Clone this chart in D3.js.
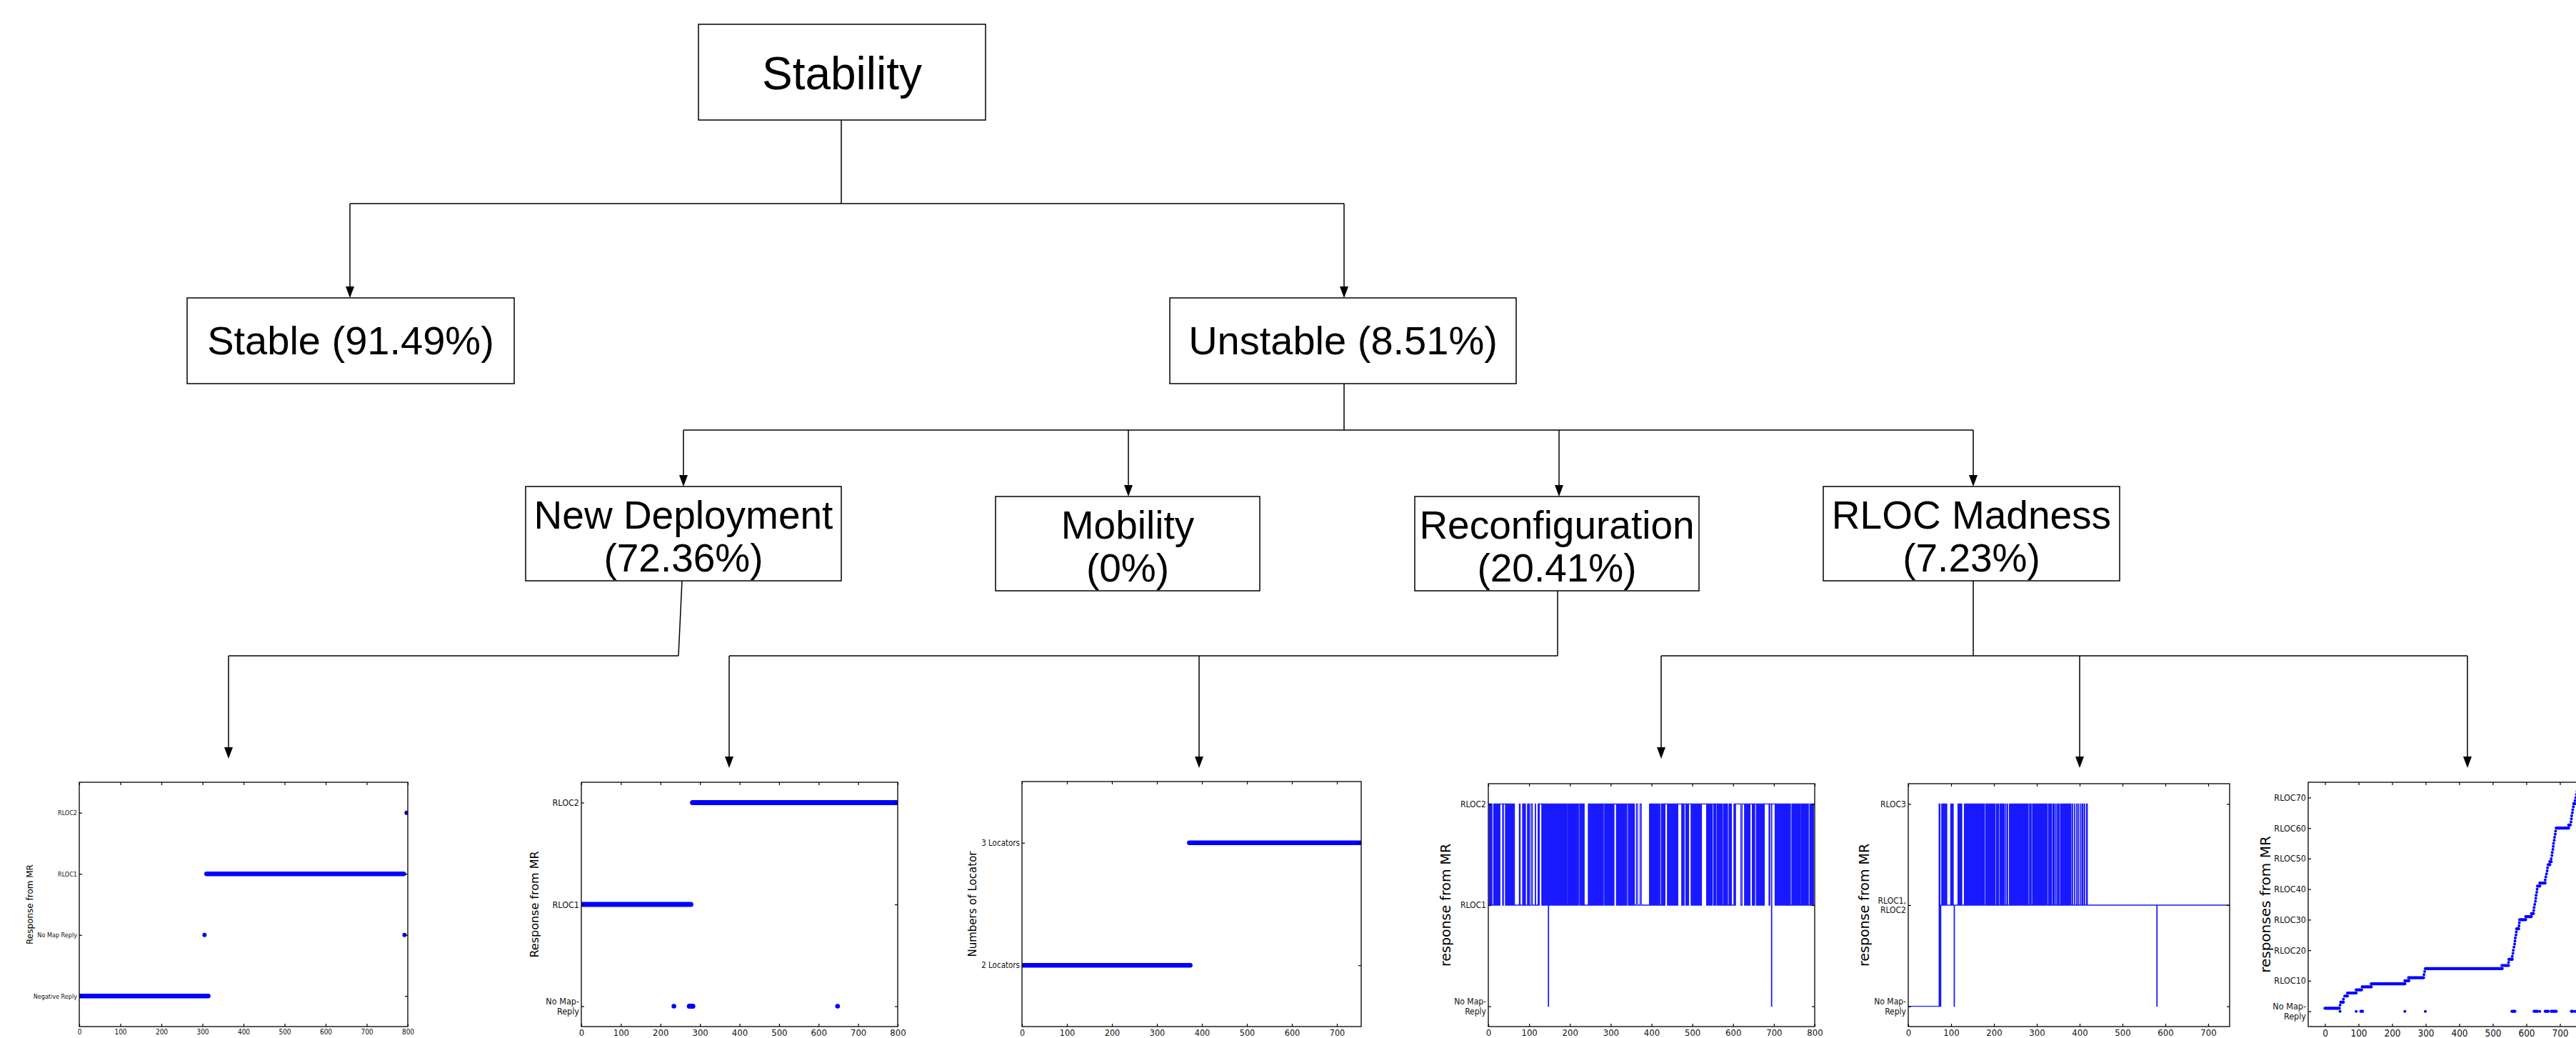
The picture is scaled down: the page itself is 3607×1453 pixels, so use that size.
<!DOCTYPE html>
<html><head><meta charset="utf-8">
<script src="https://cdn.jsdelivr.net/npm/d3@7"></script>
<style>body{margin:0;background:#fff}svg{display:block}</style>
</head><body>
<svg id="c" width="3607" height="1453"></svg>
<script>
// ---------------- DATA ----------------
const rootLabel = "Stability";
const level1Labels = ["Stable", "Unstable"];
const level1Pct = [91.49, 8.51];
const causeLabels = ["New Deployment", "Mobility", "Reconfiguration", "RLOC Madness"];
const causePct = [72.36, 0, 20.41, 7.23];

// Chart 1: New Deployment
const nd1Levels = ["Negative Reply", "No Map Reply", "RLOC1", "RLOC2"];
const nd1Runs = [[0, 314, 0], [310, 790, 2]];
const nd1Dots = [[305, 1], [792, 1], [797, 3]];
const nd1XTicks = [0, 100, 200, 300, 400, 500, 600, 700, 800];

// Chart 2: Reconfiguration (response)
const rc1Levels = ["No Map-\nReply", "RLOC1", "RLOC2"];
const rc1Runs = [[0, 277, 1], [281, 800, 2], [273, 282, 0]];
const rc1Dots = [[234, 0], [648, 0]];
const rc1XTicks = [0, 100, 200, 300, 400, 500, 600, 700, 800];

// Chart 3: Reconfiguration (locators)
const rc2Levels = ["2 Locators", "3 Locators"];
const rc2Runs = [[0, 374, 0], [372, 754, 1]];
const rc2XTicks = [0, 100, 200, 300, 400, 500, 600, 700];

// Chart 4: RLOC Madness (flapping RLOC1/RLOC2)
const rm1Levels = ["No Map-\nReply", "RLOC1", "RLOC2"];
const rm1Toggles = [2,3,4,5.5,6.5,8,9,13,14,15.5,16.5,18,19,20.5,21.5,23,24,25,27,28.5,35,37,
 42,43,44.5,45.5,47,48,49.5,50.5,52,53,54.5,55.5,57,58,59.5,60.5,62,63,64,76,78,84,85.5,87,88.5,90,91,
 96,97.5,99,101,105,108,115,116,122,123.5,125,131,132,133.5,135,136,137.5,139,140,
 141.5,143,144,146,149,150,151.5,153,154,155.5,157,158,159.5,161,162,163.5,165,166,167.5,169,170,171.5,
 173,174,175.5,177,178,179.5,181,182,183.5,185,186,187.5,189,190,191.5,
 194,195.5,197,198,199.5,201,202,203.5,205,206,207.5,209,210,211.5,213,214,215.5,217,218,219.5,221,
 224,225.5,227,228,229.5,231,232,233.5,235,
 245,246.5,248,249,250.5,252,253,254.5,256,257,258.5,260,261,262.5,264,265,266.5,268,269,270.5,272,273,274.5,276,277,278.5,280,281,282,
 285,286.5,288,289,290.5,292,293,294.5,296,297,298.5,300,301,302.5,304,305,306.5,308,
 314,315.5,317,318,319.5,321,322,323.5,325,326,327.5,329,330,331.5,333,334,335.5,337,338,339.5,
 343,345,347,349,351,352.5,354,356,358,363,366,372,375,
 395,396.5,398,399,400.5,402,403,404.5,406,407,408.5,410,411,412.5,414,415,416.5,418,419,420.5,
 424,425.5,427,428.5,430,431.5,433,
 439,440.5,442,443,444.5,446,447,448.5,450,451,452.5,454,455,456.5,458,459,460.5,462,463,464.5,
 474,476,478,480,484,485.5,487,488.5,490,491,
 497,498.5,500,501,502.5,504,505,506.5,508,509,510.5,512,513,514.5,516,517,518.5,520,521,522.5,
 535,536.5,538,539.5,541,542.5,544,545.5,547,548.5,552,554,556,558,
 561,562.5,564,565.5,567,568.5,570,571.5,573,576,577.5,579,580.5,582,583.5,585,586.5,
 590,592,594,596,602,604,606,619,622,628,629.5,631,632.5,634,635.5,637,638.5,640,641.5,
 647,649,651,653,657,658.5,660,661.5,663,664.5,666,667.5,669,670.5,672,673.5,675,676.5,688,690,
 703,704.5,706,707,708.5,710,711,712.5,714,715,716.5,718,719,720.5,722,723,724.5,726,727,728.5,730,731,732.5,734,735,736.5,738,739,740.5,
 744,745.5,747,748,749.5,751,752,753.5,755,756,757.5,759,760,761.5,763,764.5,
 767,768.5,770,771,772.5,774,775,776.5,778,779,780.5,782,783,784.5,
 788,789.5,791,792.5,794,795.5,797];
const rm1Dips = [147, 694];
const rm1XTicks = [0, 100, 200, 300, 400, 500, 600, 700, 800];

// Chart 5: RLOC Madness (RLOC3 flapping)
const rm2Levels = ["No Map-\nReply", "RLOC1,\nRLOC2", "RLOC3"];
const rm2Head = [[0, 0], [72, 2], [74, 0], [76, 1]];
const rm2Pulses = [[78,79],[80,82],[84,85],[87,88],[89,90],[99,100],[101,103],[104,105],[116,117],[119,120],[122,123],[124,125],
 [131,132],[133,134],[135,136],[137,138],[139,140],[141,142],[143,144],[146,147],[148,149],[151,152],[153,154],[156,157],[158,160],
 [161,162],[164,165],[167,168],[170,172],[174,175],[177,178],[181,182],[184,185],[187,188],[190,191],[193,194],[195,197],[199,200],
 [202,203],[206,207],[209,211],[214,215],[217,218],[220,221],[223,224],[227,228],[231,232],[236,237],[239,240],[242,243],[245,246],
 [248,249],[251,252],[254,255],[256,257],[259,260],[262,263],[264,265],[267,268],[270,271],[272,273],[275,276],[278,280],[283,284],
 [286,287],[290,291],[293,294],[296,297],[299,300],[302,303],[305,306],[308,309],[311,312],[314,315],[317,318],[320,321],[323,324],
 [327,328],[330,331],[333,334],[337,338],[340,341],[344,345],[348,349],[351,352],[355,356],[358,359],[361,362],[364,365],[367,368],
 [370,371],[373,374],[376,377],[379,380],[383,384],[388,389],[393,394],[397,398],[402,403],[406,408],[411,412],[416,418]];
const rm2Dips = [107, 580];
const rm2XTicks = [0, 100, 200, 300, 400, 500, 600, 700];

// Chart 6: RLOC Madness (growing RLOC set)
const rm3TickVals = [0, 10, 20, 30, 40, 50, 60, 70];
const rm3TickLabels = ["No Map-\nReply", "RLOC10", "RLOC20", "RLOC30", "RLOC40", "RLOC50", "RLOC60", "RLOC70"];
const rm3Runs = [[0,43,1],[47,55,3],[59,67,5],[67,93,6],[93,109,7],[111,138,8],[138,238,9],[238,250,10],[249,294,11],
 [299,528,14],[527,547,15],[548,558,17],[571,577,27],[580,598,30],[598,615,31],[615,621,32],[633,640,41],[640,656,42],
 [665,670,48],[670,674,49],[689,726,60],[726,731,61],[741,744,68],
 [107,112,0],[557,566,0],[623,633,0],[656,665,0],[674,689,0],[734,738,0]];
const rm3Dots = [[45,2],[55,4],[295,12],[297,13],[547,16],[558,18],[560,19],[561,20],[563,21],[565,22],[566,23],[567,24],
 [569,25],[570,26],[578,28],[579,29],[622,33],[623,34],[625,35],[627,36],[628,37],[629,38],[631,39],[632,40],[656,43],
 [658,44],[660,45],[662,46],[663,47],[674,50],[676,51],[677,52],[679,53],[680,54],[681,55],[683,56],[684,57],[686,58],
 [687,59],[733,62],[734,63],[735,64],[737,65],[738,66],[740,67],[745,69],[747,70],[749,71],[751,72],
 [45,0],[93,0],[238,0],[299,0],[640,0],[745,0]];
const rm3XTicks = [0, 100, 200, 300, 400, 500, 600, 700];

// ---------------- DRAW ----------------
const svg = d3.select("#c");
const BLUE = "#0000ff";
const TREE_FONT = "'Liberation Sans', Arial, Helvetica, sans-serif";
const TICK_FONT = "'DejaVu Sans Condensed', 'DejaVu Sans', sans-serif";
const LABEL_FONT = "'DejaVu Sans', sans-serif";

// --- Tree ---
const tree = svg.append("g");
function box(b, lines, fs, lineYs) {
  tree.append("rect").attr("x", b.x).attr("y", b.y).attr("width", b.w).attr("height", b.h)
    .attr("fill", "#fff").attr("stroke", "#000").attr("stroke-width", 1.5);
  lines.forEach((t, i) => {
    tree.append("text").attr("x", b.x + b.w / 2).attr("y", lineYs[i])
      .attr("text-anchor", "middle").attr("dominant-baseline", "central")
      .attr("font-family", TREE_FONT).attr("font-size", fs).attr("fill", "#000").text(t);
  });
}
function seg(x1, y1, x2, y2) {
  tree.append("line").attr("x1", x1).attr("y1", y1).attr("x2", x2).attr("y2", y2)
    .attr("stroke", "#000").attr("stroke-width", 1.5);
}
function arrow(x, y1, tipY) {
  seg(x, y1, x, tipY - 12);
  tree.append("path").attr("d", `M${x - 6},${tipY - 16}L${x + 6},${tipY - 16}L${x},${tipY}Z`).attr("fill", "#000");
}
const pctText = p => `(${p}%)`;

const rootBox = {x: 978, y: 34, w: 402, h: 134};
box(rootBox, [rootLabel], 64, [103]);
const l1Boxes = [{x: 262, y: 417, w: 458, h: 120}, {x: 1638, y: 417, w: 485, h: 120}];
level1Labels.forEach((l, i) => box(l1Boxes[i], [`${l} ${pctText(level1Pct[i])}`], 56, [476]));
const causeBoxes = [{x: 736, y: 681, w: 442, h: 132}, {x: 1394, y: 695, w: 370, h: 132},
                    {x: 1981, y: 695, w: 398, h: 132}, {x: 2553, y: 681, w: 415, h: 132}];
causeLabels.forEach((l, i) => {
  const b = causeBoxes[i];
  box(b, [l, pctText(causePct[i])], 55, [b.y + 40, b.y + 100]);
});

// connectors
seg(1178, 168, 1178, 285); seg(490, 285, 1882, 285);
arrow(490, 285, 417); arrow(1882, 285, 417);
seg(1882, 537, 1882, 602); seg(957, 602, 2763, 602);
arrow(957, 602, 681); arrow(1580, 602, 695); arrow(2183, 602, 695); arrow(2763, 602, 681);
seg(955, 813, 950, 918); seg(320, 918, 950, 918); arrow(320, 918, 1062);
seg(2181, 827, 2181, 918); seg(1021, 918, 2181, 918); arrow(1021, 918, 1075); arrow(1679, 918, 1075);
seg(2763, 813, 2763, 918); seg(2326, 918, 3455, 918); arrow(2326, 918, 1062); arrow(2912, 918, 1075); arrow(3455, 918, 1075);

// --- Charts ---
function drawChart(cfg) {
  const g = svg.append("g");
  const x = d3.scaleLinear().domain(cfg.xDomain).range([cfg.left, cfg.right]);
  const y = d3.scaleLinear().domain(cfg.yDomain).range([cfg.bottom, cfg.top]);
  const clipId = "clip" + cfg.id;
  g.append("clipPath").attr("id", clipId).append("rect")
    .attr("x", cfg.left).attr("y", cfg.top).attr("width", cfg.right - cfg.left).attr("height", cfg.bottom - cfg.top);

  const plot = g.append("g").attr("clip-path", `url(#${clipId})`);
  cfg.draw(plot, x, y);

  const styleAxis = (sel, fs) => {
    sel.select(".domain").remove();
    sel.selectAll(".tick line").attr("stroke", "#000").attr("stroke-width", 1.2);
    sel.selectAll("text").attr("font-family", TICK_FONT).attr("font-stretch", "condensed")
      .attr("font-size", fs).attr("fill", "#111");
  };
  const bx = g.append("g").attr("transform", `translate(0,${cfg.bottom})`)
    .call(d3.axisBottom(x).tickValues(cfg.xTicks).tickFormat(d3.format("d")).tickSize(-4).tickPadding(4));
  styleAxis(bx, cfg.xFont);
  const tx = g.append("g").attr("transform", `translate(0,${cfg.top})`)
    .call(d3.axisTop(x).tickValues(cfg.xTicks).tickFormat("").tickSize(-4));
  styleAxis(tx, cfg.xFont);
  const ly = g.append("g").attr("transform", `translate(${cfg.left},0)`)
    .call(d3.axisLeft(y).tickValues(cfg.yTickVals).tickFormat((d, i) => cfg.yTickLabels[i]).tickSize(-4).tickPadding(3));
  styleAxis(ly, cfg.yFont);
  ly.selectAll(".tick text").each(function (d, i) {
    const t = cfg.yTickLabels[i];
    if (t.includes("\n")) {
      const el = d3.select(this);
      const parts = t.split("\n");
      el.text(null).attr("dy", null);
      parts.forEach((p, j) => el.append("tspan").attr("x", -3)
        .attr("dy", j === 0 ? "-0.25em" : "1.15em").text(p));
    }
  });
  const ry = g.append("g").attr("transform", `translate(${cfg.right},0)`)
    .call(d3.axisRight(y).tickValues(cfg.yTickVals).tickFormat("").tickSize(-4));
  styleAxis(ry, cfg.yFont);

  g.append("rect").attr("x", cfg.left).attr("y", cfg.top).attr("width", cfg.right - cfg.left)
    .attr("height", cfg.bottom - cfg.top).attr("fill", "none").attr("stroke", "#111").attr("stroke-width", 1.4);

  g.append("text").attr("transform", `translate(${cfg.labelX},${(cfg.top + cfg.bottom) / 2}) rotate(-90)`)
    .attr("text-anchor", "middle").attr("dominant-baseline", "central")
    .attr("font-family", LABEL_FONT).attr("font-size", cfg.labelFont).attr("fill", "#000").text(cfg.yLabel);
}

function runsAndDots(runs, dots, width, r) {
  return (p, x, y) => {
    p.selectAll(".run").data(runs).join("line")
      .attr("x1", d => x(d[0])).attr("x2", d => x(d[1])).attr("y1", d => y(d[2])).attr("y2", d => y(d[2]))
      .attr("stroke", BLUE).attr("stroke-width", width).attr("stroke-linecap", "round");
    p.selectAll(".dot").data(dots).join("circle")
      .attr("cx", d => x(d[0])).attr("cy", d => y(d[1])).attr("r", r).attr("fill", BLUE);
  };
}

const idx = arr => arr.map((d, i) => i);

drawChart({
  id: 1, left: 111, right: 571, top: 1095, bottom: 1437,
  xDomain: [0, 800], yDomain: [-0.5, 3.5], xTicks: nd1XTicks,
  yTickVals: idx(nd1Levels), yTickLabels: nd1Levels, xFont: 10, yFont: 9,
  yLabel: "Response from MR", labelX: 42, labelFont: 12,
  draw: runsAndDots(nd1Runs, nd1Dots, 6.5, 3)
});

drawChart({
  id: 2, left: 814, right: 1257, top: 1095, bottom: 1437,
  xDomain: [0, 800], yDomain: [-0.2, 2.2], xTicks: rc1XTicks,
  yTickVals: idx(rc1Levels), yTickLabels: rc1Levels, xFont: 13, yFont: 12.5,
  yLabel: "Response from MR", labelX: 748, labelFont: 16,
  draw: runsAndDots(rc1Runs, rc1Dots, 7, 3.3)
});

drawChart({
  id: 3, left: 1431, right: 1906, top: 1094, bottom: 1437,
  xDomain: [0, 754], yDomain: [-0.5, 1.5], xTicks: rc2XTicks,
  yTickVals: idx(rc2Levels), yTickLabels: rc2Levels, xFont: 12.5, yFont: 11.5,
  yLabel: "Numbers of Locator", labelX: 1362, labelFont: 15,
  draw: runsAndDots(rc2Runs, [], 6.5, 3)
});

function buildToggleSeries(toggles, dips, startLevel, end) {
  const ev = toggles.map(t => ({t, k: "t"})).concat(dips.map(t => ({t, k: "d"}))).sort((a, b) => a.t - b.t);
  let s = startLevel; const pts = [[0, s]];
  ev.forEach(e => {
    if (e.k === "t") { s = 3 - s; pts.push([e.t, s]); }
    else { pts.push([e.t, 0]); pts.push([e.t + 0.8, s]); }
  });
  pts.push([end, s]);
  return pts;
}
function buildPulseSeries(head, pulses, dips, base, high, end) {
  const pts = head.slice();
  const ev = [];
  pulses.forEach(p => { ev.push([p[0], high]); ev.push([p[1], base]); });
  dips.forEach(d => { ev.push([d, 0]); ev.push([d + 0.8, base]); });
  ev.sort((a, b) => a[0] - b[0]);
  return pts.concat(ev, [[end, base]]);
}
function stepLine(pts) {
  return (p, x, y) => {
    p.append("path").datum(pts)
      .attr("d", d3.line().x(d => x(d[0])).y(d => y(d[1])).curve(d3.curveStepAfter))
      .attr("fill", "none").attr("stroke", BLUE).attr("stroke-width", 1.3).attr("stroke-opacity", 0.9);
  };
}

drawChart({
  id: 4, left: 2084, right: 2541, top: 1097, bottom: 1437,
  xDomain: [0, 800], yDomain: [-0.2, 2.2], xTicks: rm1XTicks,
  yTickVals: idx(rm1Levels), yTickLabels: rm1Levels, xFont: 13, yFont: 12,
  yLabel: "response from MR", labelX: 2024, labelFont: 19,
  draw: stepLine(buildToggleSeries(rm1Toggles, rm1Dips, 2, 800))
});

drawChart({
  id: 5, left: 2672, right: 3122, top: 1097, bottom: 1437,
  xDomain: [0, 750], yDomain: [-0.2, 2.2], xTicks: rm2XTicks,
  yTickVals: idx(rm2Levels), yTickLabels: rm2Levels, xFont: 13, yFont: 12,
  yLabel: "response from MR", labelX: 2610, labelFont: 19,
  draw: stepLine(buildPulseSeries(rm2Head, rm2Pulses, rm2Dips, 1, 2, 750))
});

drawChart({
  id: 6, left: 3232, right: 3655, top: 1095, bottom: 1437,
  xDomain: [-50, 850], yDomain: [-5, 75], xTicks: rm3XTicks,
  yTickVals: rm3TickVals, yTickLabels: rm3TickLabels, xFont: 13.5, yFont: 12.5,
  yLabel: "responses from MR", labelX: 3172, labelFont: 20,
  draw: runsAndDots(rm3Runs, rm3Dots, 4.2, 2)
});
</script>
</body></html>
